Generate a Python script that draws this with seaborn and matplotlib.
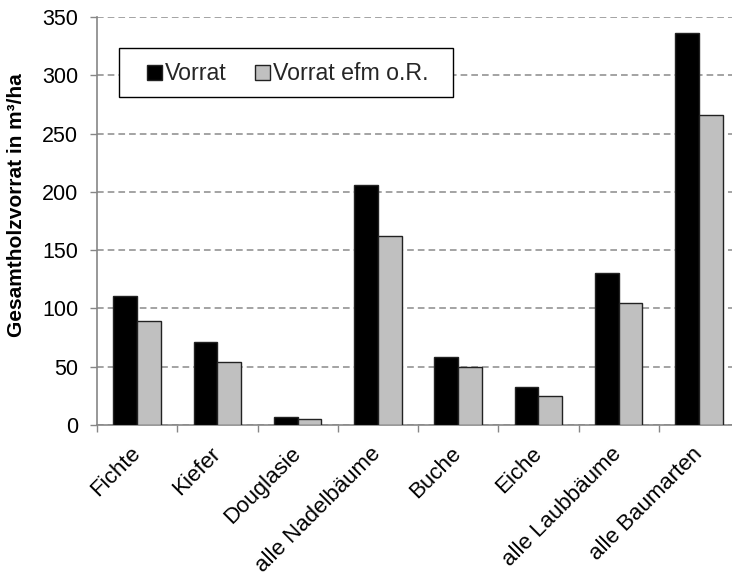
import matplotlib
matplotlib.use("Agg")
import matplotlib.pyplot as plt
import seaborn as sns
import pandas as pd
from matplotlib.patches import Patch, Rectangle
from matplotlib.ticker import FixedLocator
from matplotlib.legend_handler import HandlerPatch

categories = ["Fichte", "Kiefer", "Douglasie", "alle Nadelbäume", "Buche", "Eiche",
              "alle Laubbäume", "alle Baumarten"]
vorrat = [111, 71, 7, 206, 58, 33, 130, 336]
vorrat_efm = [89, 54, 5, 162, 50, 25, 105, 266]
series_names = ["Vorrat", "Vorrat efm o.R."]
y_ticks = [0, 50, 100, 150, 200, 250, 300, 350]
y_label = "Gesamtholzvorrat in m³/ha"

df = pd.DataFrame({
    "Kategorie": categories * 2,
    "Wert": vorrat + vorrat_efm,
    "Serie": [series_names[0]] * len(categories) + [series_names[1]] * len(categories),
})

sns.set_theme(style="white")
plt.rcParams["font.family"] = ["Liberation Sans", "DejaVu Sans"]
plt.rcParams["lines.scale_dashes"] = False

W, H = 732, 580
fig = plt.figure(figsize=(W / 100, H / 100), dpi=100)
ax = fig.add_axes([97 / W, (H - 425) / H, 642 / W, 408 / H])

colors = ["#000000", "#C0C0C0"]
sns.barplot(data=df, x="Kategorie", y="Wert", hue="Serie", order=categories,
            hue_order=series_names, palette=colors, width=0.59, ax=ax,
            edgecolor="#222222", linewidth=1.0, legend=False, zorder=3)

ax.set_xlim(-0.5, len(categories) - 0.5)
ax.set_ylim(0, 350)
ax.set_yticks(y_ticks)
ax.yaxis.grid(True, color="#8a8a8a", linestyle=(0, (4.8, 2.9)), linewidth=1.1, zorder=0)
ax.xaxis.grid(False)

for s in ["left", "bottom"]:
    ax.spines[s].set_visible(True)
    ax.spines[s].set_color("#868686")
    ax.spines[s].set_linewidth(1.2)
ax.spines["top"].set_visible(False)
ax.spines["right"].set_visible(False)

ax.tick_params(axis="y", which="major", direction="out", length=5, width=1,
               color="#868686", labelsize=15.5, pad=8.6, left=True)
ax.tick_params(axis="x", which="major", length=0, labelsize=16, pad=18.4)
ax.xaxis.set_minor_locator(FixedLocator([i - 0.5 for i in range(len(categories) + 1)]))
ax.tick_params(axis="x", which="minor", direction="out", length=5, width=1,
               color="#868686", bottom=True)

ax.set_xticks(range(len(categories)))
ax.set_xticklabels(categories, rotation=45, ha="right", va="center",
                   rotation_mode="anchor", color="black")
for lbl in ax.get_yticklabels():
    lbl.set_color("black")

ax.set_xlabel("")
ax.set_ylabel(y_label, fontsize=15, fontweight="bold", color="black")
ax.yaxis.set_label_coords(-0.1106, 0.539)

# legend frame drawn manually to match box extent
fig.patches.append(Rectangle((119 / W, 1 - 97 / H), (453 - 119) / W, 49 / H,
                             transform=fig.transFigure, facecolor="white",
                             edgecolor="black", linewidth=1.0, zorder=5))


def make_square(legend, orig_handle, xdescent, ydescent, width, height, fontsize):
    return Rectangle((-xdescent, -ydescent), width, height)


handles = [Patch(facecolor=colors[0], edgecolor="#222222", linewidth=1),
           Patch(facecolor=colors[1], edgecolor="#222222", linewidth=1)]
leg_fs = 16.7
leg = fig.legend(handles, series_names, loc="center left",
                 bbox_to_anchor=(147 / W, 1 - 74 / H), bbox_transform=fig.transFigure,
                 ncol=2, fontsize=leg_fs, frameon=False,
                 handlelength=0.65, handleheight=0.65, handletextpad=0.13,
                 columnspacing=1.2, borderpad=0, borderaxespad=0,
                 handler_map={Patch: HandlerPatch(patch_func=make_square)})
leg.set_zorder(6)

fig.savefig("out.png", dpi=100)
